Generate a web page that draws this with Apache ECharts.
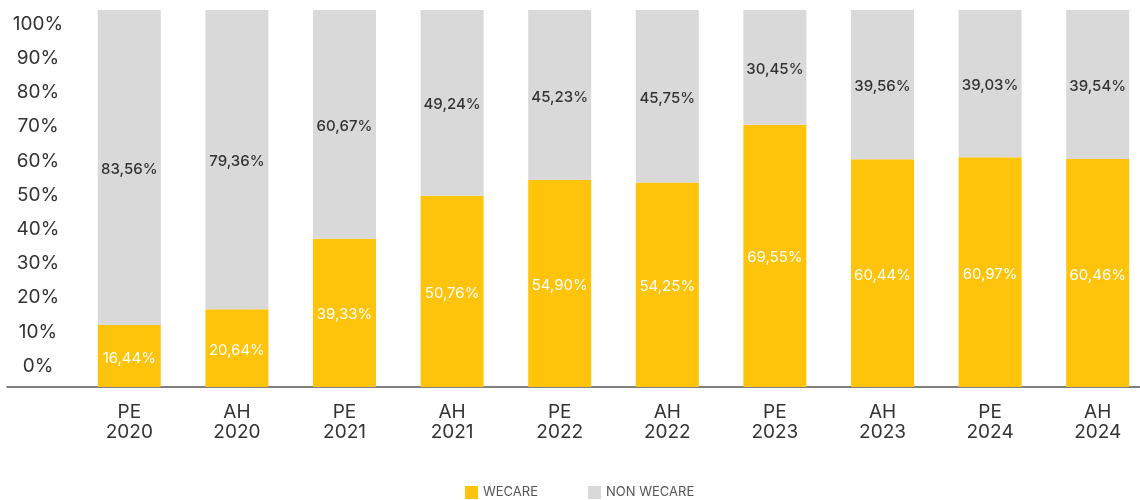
<!DOCTYPE html>
<html>
<head>
<meta charset="utf-8">
<script src="https://cdn.jsdelivr.net/npm/echarts@6/dist/echarts.min.js"></script>
<style>
  html, body { margin: 0; padding: 0; background: #fff; }
  #chart { width: 1140px; height: 500px; }
</style>
</head>
<body>
<div id="chart"></div>
<script>
var categories = ['PE\n2020', 'AH\n2020', 'PE\n2021', 'AH\n2021', 'PE\n2022', 'AH\n2022', 'PE\n2023', 'AH\n2023', 'PE\n2024', 'AH\n2024'];
var wecare = [16.44, 20.64, 39.33, 50.76, 54.90, 54.25, 69.55, 60.44, 60.97, 60.46];
var nonWecare = [83.56, 79.36, 60.67, 49.24, 45.23, 45.75, 30.45, 39.56, 39.03, 39.54];
var yTicks = [0, 10, 20, 30, 40, 50, 60, 70, 80, 90, 100];

var FONT = 'Inter, "Noto Sans", sans-serif';

function fmt(p) {
  return p.value.toFixed(2).replace('.', ',') + '%';
}

var chart = echarts.init(document.getElementById('chart'));
chart.setOption({
  animation: false,
  textStyle: { fontFamily: FONT },
  legend: {
    left: 460,
    bottom: -4,
    itemWidth: 13,
    itemHeight: 13,
    itemGap: 50,
    icon: 'rect',
    textStyle: { fontSize: 13, color: '#555', fontFamily: FONT },
    data: ['WECARE', 'NON WECARE']
  },
  grid: [
    { left: 75.5, width: 1076, top: 10, bottom: 113, outerBoundsMode: 'none', containLabel: false },
    { left: 7, right: 0, top: 24, height: 342, outerBoundsMode: 'none', containLabel: false }
  ],
  xAxis: [
    {
      type: 'category',
      gridIndex: 0,
      data: categories,
      axisLine: { show: false },
      axisTick: { show: false },
      axisLabel: { fontSize: 19, color: '#333', margin: 15, lineHeight: 20, fontFamily: FONT }
    },
    {
      type: 'value',
      gridIndex: 1,
      min: 0,
      max: 1,
      offset: 21,
      axisLine: { show: true, onZero: false, lineStyle: { color: '#555', width: 1.5 } },
      axisTick: { show: false },
      axisLabel: { show: false },
      splitLine: { show: false }
    }
  ],
  yAxis: [
    {
      type: 'value',
      gridIndex: 0,
      min: 0,
      max: 100,
      show: false
    },
    {
      type: 'value',
      gridIndex: 1,
      min: yTicks[0],
      max: yTicks[yTicks.length - 1],
      interval: 10,
      axisLine: { show: false },
      axisTick: { show: false },
      splitLine: { show: false },
      axisLabel: {
        inside: true,
        align: 'center',
        margin: 31,
        fontSize: 19,
        color: '#333',
        fontFamily: FONT,
        formatter: '{value}%'
      }
    }
  ],
  series: [
    {
      name: 'WECARE',
      type: 'bar',
      stack: 'total',
      barWidth: 63,
      xAxisIndex: 0,
      yAxisIndex: 0,
      itemStyle: { color: '#FEC40C' },
      label: {
        show: true,
        position: 'inside',
        offset: [0, 2],
        color: '#fff',
        fontSize: 15,
        fontFamily: FONT,
        formatter: fmt
      },
      data: wecare
    },
    {
      name: 'NON WECARE',
      type: 'bar',
      stack: 'total',
      barWidth: 63,
      xAxisIndex: 0,
      yAxisIndex: 0,
      itemStyle: { color: '#D9D9D9' },
      label: {
        show: true,
        position: 'inside',
        offset: [0, 2],
        color: '#333',
        fontSize: 15,
        fontWeight: 500,
        fontFamily: FONT,
        formatter: fmt
      },
      data: nonWecare
    }
  ]
});
</script>
</body>
</html>
